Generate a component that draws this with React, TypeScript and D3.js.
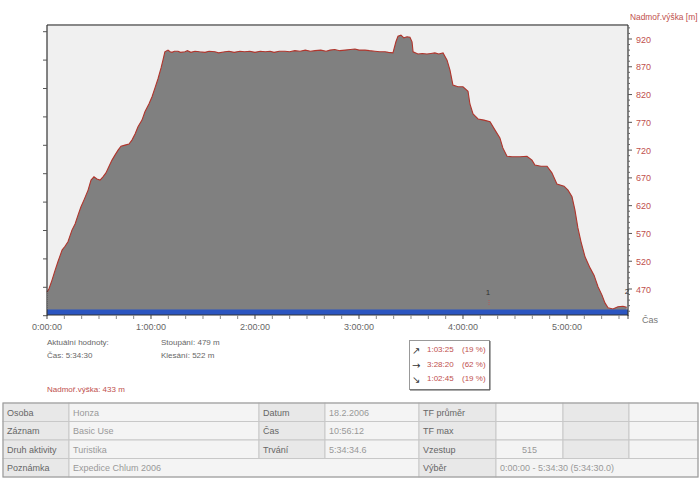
import React from "react";
import * as d3 from "d3";

// elapsed time in minutes
const timeMinutes = [
  0, 1.2, 2.9, 4.6, 6.3, 8.7, 10.4, 12.1, 14.4, 16.2, 17.9, 19.6, 21.3, 23.7, 25.4, 27.1, 28.8, 30.6, 32.3, 34,
  35.8, 37.5, 39.2, 41, 42.7, 45, 47.3, 49, 50.8, 52.5, 54.8, 56.5, 58.8, 60.6, 62.3, 64, 65.8, 66.9, 68, 69.8,
  71, 72.1, 73.5, 75.6, 77, 79.6, 81, 83, 85.4, 88, 91.2, 93.5, 96.9, 99, 102.7, 105, 108, 111.3, 114, 117,
  120, 123, 126, 128.7, 131, 134, 137.3, 140, 143, 146, 149, 152, 154.6, 158, 161, 163.3, 166, 169, 172, 175,
  177.7, 180, 183.5, 186, 189.2, 192, 195, 197, 199.6, 201.3, 202.5, 204.2, 205.9, 207.7, 209.4, 210.6, 211.2, 214, 216.5, 219.2,
  221.5, 223.8, 226, 228.5, 230.8, 232.5, 234.2, 237.1, 240, 242.9, 244, 245.8, 248.7, 252.1, 255.6, 258.5, 261.3, 263, 265.4, 268.3,
  272.9, 276.9, 279.8, 281.5, 285, 288.5, 291.3, 294.2, 298.3, 300.6, 302.9, 304.6, 306.3, 308.1, 310.4, 313.3, 315.6, 317.9, 320.2, 321.9,
  323.7, 326.5, 329.4, 332.3, 334.5,
];
// altitude in metres
const elevationM = [
  464, 471, 486, 503, 519, 540, 547, 555, 576, 587, 603, 618, 630, 648, 666, 672, 668, 666, 672, 679,
  691, 702, 711, 720, 727, 729, 731, 738, 749, 762, 774, 789, 803, 816, 832, 848, 868, 882, 897, 900,
  897, 896, 898, 898, 896, 897, 899, 896, 898, 897, 896, 898, 897, 895, 897, 898, 896, 898, 897, 898,
  896, 898, 897, 898, 896, 898, 898, 897, 899, 898, 900, 898, 899, 900, 898, 900, 901, 899, 900, 901,
  902, 900, 900, 899, 898, 897, 897, 896, 895, 915, 925, 927, 922, 924, 923, 915, 897, 893, 894, 893,
  894, 895, 893, 895, 882, 864, 837, 834, 834, 826, 803, 785, 776, 774, 771, 756, 742, 724, 709, 708,
  708, 709, 702, 693, 691, 691, 679, 659, 655, 648, 636, 612, 580, 555, 528, 508, 495, 474, 459, 445,
  436, 434, 438, 439, 437,
];

const yTickValues = [470, 520, 570, 620, 670, 720, 770, 820, 870, 920];
const xTickHours = [0, 1, 2, 3, 4, 5];
const hourLabels = ["0:00:00", "1:00:00", "2:00:00", "3:00:00", "4:00:00", "5:00:00"];

const infoLeft = ["Aktuální hodnoty:", "Čas: 5:34:30"];
const infoMid = ["Stoupání: 479 m", "Klesání: 522 m"];
const boxArrows = ["↗", "→", "↘"];
const boxTimes = ["1:03:25", "3:28:20", "1:02:45"];
const boxPcts = ["(19 %)", "(62 %)", "(19 %)"];

const tableRows = [
  ["Osoba", "Honza", "Datum", "18.2.2006", "TF průměr", "", "", ""],
  ["Záznam", "Basic Use", "Čas", "10:56:12", "TF max", "", "", ""],
  ["Druh aktivity", "Turistika", "Trvání", "5:34:34.6", "Vzestup", "515", "", ""],
];
const lastRow = ["Poznámka", "Expedice Chlum 2006", "Výběr", "0:00:00 - 5:34:30 (5:34:30.0)"];

const FONT = "'Liberation Sans', Arial, sans-serif";

export default function App() {
  const W = 700, H = 480;
  const left = 47, right = 628, top = 25, bottom = 315;
  const x = d3.scaleLinear().domain([0, 335.2]).range([left, right]);
  const y = d3.scaleLinear().domain([423.2, 945.2]).range([bottom, top]);
  const leftY = d3.scaleLinear().domain([0, 10]).range([31.7, 315.7]);

  const data = timeMinutes.map((t, i) => [t, elevationM[i]] as [number, number]);
  const area = d3.area<[number, number]>().x(d => x(d[0])).y0(bottom).y1(d => y(d[1]));
  const line = d3.line<[number, number]>().x(d => x(d[0])).y(d => y(d[1]));

  const minorX = d3.range(0, 336, 10);
  const minorY = d3.range(430, 945, 10).filter(v => !yTickValues.includes(v));

  const colX = [3, 69, 259, 325, 419, 496, 563, 629, 698];
  const rowY = [403, 421.5, 440, 458.5, 477];
  const labelCols = [0, 2, 4, 6];

  return (
    <svg width={W} height={H} style={{ position: "absolute", left: 0, top: 0, background: "#fff" }} fontFamily={FONT}>
      {/* plot background */}
      <rect x={left} y={top} width={right - left} height={bottom - top} fill="#f0f0f0" />
      <path d={area(data) || ""} fill="#808080" />
      <path d={line(data) || ""} fill="none" stroke="#b0352c" strokeWidth={1.1} />
      <line x1={left + 0.5} x2={left + 0.5} y1={y(464)} y2={bottom} stroke="#fff" strokeWidth={1} strokeDasharray="1,1" />
      {/* blue band */}
      <rect x={left} y={309.5} width={right - left} height={5.5} fill="#2b55c0" />
      {/* top border */}
      <line x1={left} x2={right} y1={top} y2={top} stroke="#888" strokeWidth={2} />
      {/* left axis */}
      <line x1={left} x2={left} y1={top} y2={bottom + 1} stroke="#333" strokeWidth={1.2} />
      {d3.range(0, 11).map(i => (
        <line key={"ly" + i} x1={left - 4} x2={left} y1={leftY(i)} y2={leftY(i)} stroke="#555" />
      ))}
      {/* right axis */}
      <line x1={right} x2={right} y1={top} y2={bottom + 1} stroke="#333" strokeWidth={1.2} />
      {minorY.map(v => (
        <line key={"my" + v} x1={right} x2={right + 2} y1={y(v)} y2={y(v)} stroke="#666" />
      ))}
      {yTickValues.map(v => (
        <g key={"ry" + v}>
          <line x1={right} x2={right + 4} y1={y(v)} y2={y(v)} stroke="#555" />
          <text x={636} y={y(v) + 3.5} fontSize={9} fill="#c0504d">{v}</text>
        </g>
      ))}
      <text x={630} y={20} fontSize={8.4} fill="#c0504d">Nadmoř.výška [m]</text>
      {/* x axis */}
      <line x1={left} x2={right} y1={bottom} y2={bottom} stroke="#333" strokeWidth={1.2} />
      {minorX.map(m => (
        <line key={"mx" + m} x1={x(m)} x2={x(m)} y1={bottom} y2={bottom + 4} stroke={m % 60 === 0 ? "#444" : "#888"} />
      ))}
      <line x1={right} x2={right} y1={bottom} y2={bottom + 4} stroke="#444" />
      {xTickHours.map((h, i) => (
        <text key={"xl" + h} x={x(h * 60)} y={330} fontSize={9} fill="#666" textAnchor="middle">{hourLabels[i]}</text>
      ))}
      <text x={642} y={323} fontSize={9} fill="#777">Čas</text>
      {/* markers */}
      <text x={488} y={295} fontSize={8} fill="#333" textAnchor="middle">1</text>
      <line x1={489} x2={489} y1={300} y2={306} stroke="#c05050" strokeWidth={0.8} strokeDasharray="1,1" />
      <text x={627} y={294} fontSize={8} fill="#333" textAnchor="middle">2</text>

      {/* info texts */}
      {infoLeft.map((t, i) => (
        <text key={"il" + i} x={47} y={345 + i * 12.5} fontSize={8} fill="#666">{t}</text>
      ))}
      {infoMid.map((t, i) => (
        <text key={"im" + i} x={161} y={345 + i * 12.5} fontSize={8} fill="#666">{t}</text>
      ))}
      <text x={47} y={392} fontSize={8} fill="#c0504d">Nadmoř.výška: 433 m</text>

      {/* box */}
      <rect x={409.5} y={340.5} width={80} height={49} fill="#fff" stroke="#999" />
      <line x1={410} x2={490} y1={390} y2={390} stroke="#555" />
      <line x1={490} x2={490} y1={341} y2={390} stroke="#555" />
      {boxTimes.map((t, i) => (
        <g key={"bx" + i}>
          <text x={412} y={354 + i * 14.5} fontSize={10} fill="#333" fontFamily="'DejaVu Sans', sans-serif">{boxArrows[i]}</text>
          <text x={427} y={352 + i * 14.5} fontSize={8} fill="#c0504d">{t}</text>
          <text x={462} y={352 + i * 14.5} fontSize={8} fill="#c0504d">{boxPcts[i]}</text>
        </g>
      ))}

      {/* table */}
      <rect x={colX[0]} y={rowY[0]} width={colX[8] - colX[0]} height={rowY[4] - rowY[0]} fill="#f4f4f4" />
      {tableRows.map((row, r) => (
        <g key={"tr" + r}>
          {row.map((cell, c) => (
            <g key={"tc" + c}>
              <rect x={colX[c]} y={rowY[r]} width={colX[c + 1] - colX[c]} height={rowY[r + 1] - rowY[r]}
                fill={labelCols.includes(c) ? "#e8e8e8" : "#f4f4f4"} stroke="#c8c8c8" strokeWidth={1} />
              {cell && (
                <text x={c === 5 ? (colX[5] + colX[6]) / 2 : colX[c] + 4} y={rowY[r] + 12.5}
                  textAnchor={c === 5 ? "middle" : "start"}
                  fontSize={9} fill={labelCols.includes(c) ? "#666" : "#999"}>{cell}</text>
              )}
            </g>
          ))}
        </g>
      ))}
      {[[0, 1], [1, 4], [4, 5], [5, 8]].map(([a, b], k) => (
        <g key={"lr" + k}>
          <rect x={colX[a]} y={rowY[3]} width={colX[b] - colX[a]} height={rowY[4] - rowY[3]}
            fill={k % 2 === 0 ? "#e8e8e8" : "#f4f4f4"} stroke="#c8c8c8" strokeWidth={1} />
          <text x={colX[a] + 4} y={rowY[3] + 12.5} fontSize={9} fill={k % 2 === 0 ? "#666" : "#999"}>{lastRow[k]}</text>
        </g>
      ))}
      <rect x={colX[0]} y={rowY[0]} width={colX[8] - colX[0]} height={rowY[4] - rowY[0]} fill="none" stroke="#999" strokeWidth={1} />
    </svg>
  );
}
